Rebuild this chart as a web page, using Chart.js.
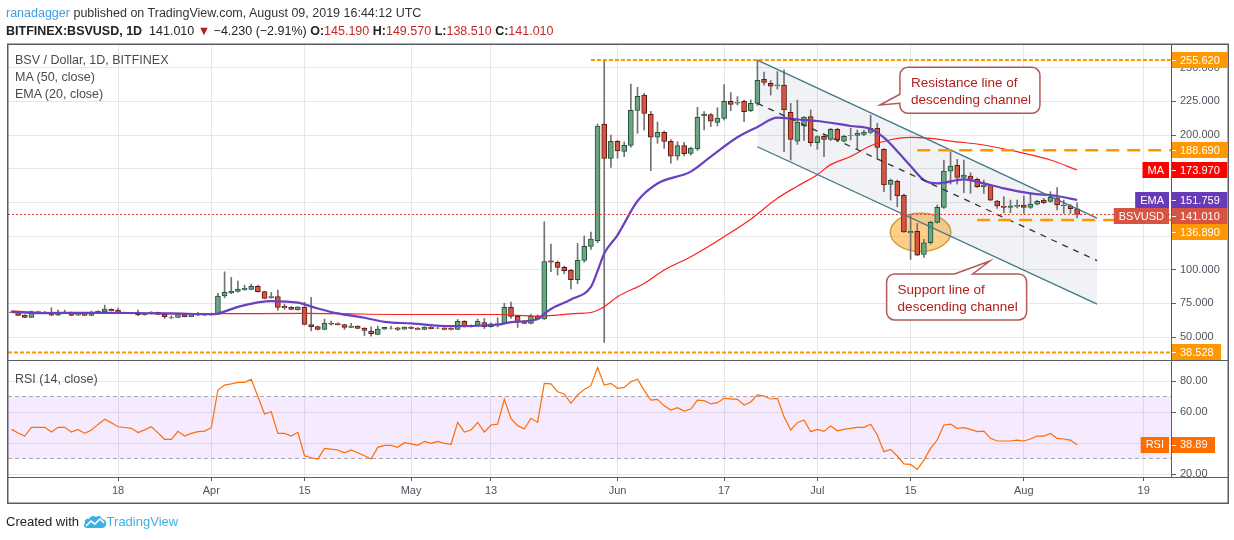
<!DOCTYPE html>
<html>
<head>
<meta charset="utf-8">
<script src="https://cdn.jsdelivr.net/npm/chart.js@4.4.1/dist/chart.umd.min.js"></script>
<style>
  html, body { margin: 0; padding: 0; background: #fff; }
  body { width: 1234px; height: 540px; position: relative; overflow: hidden;
         font-family: "Liberation Sans", Arial, sans-serif; color: #333; }
  #chart { position: absolute; left: 0; top: 0; }
  .txt { position: absolute; white-space: nowrap; line-height: 16px; }
  .user { color: #3d9ee6; }
  .red { color: #c62828; }
  .legend { color: #4a4a4a; font-size: 12.5px; }
  .tv { color: #3bb0e6; }
</style>
</head>
<body>
<canvas id="chart" width="1234" height="540"></canvas>

<div class="txt" style="left:6px;top:5px;font-size:12.5px"><span class="user">ranadagger</span> published on TradingView.com, August 09, 2019 16:44:12 UTC</div>
<div class="txt" style="left:6px;top:23px;font-size:12.5px;color:#222"><b>BITFINEX:BSVUSD, 1D</b>&nbsp; 141.010 <span style="color:#b71c1c">&#9660;</span> &minus;4.230 (&minus;2.91%) <b>O:</b><span class="red">145.190</span> <b>H:</b><span class="red">149.570</span> <b>L:</b><span class="red">138.510</span> <b>C:</b><span class="red">141.010</span></div>

<div class="txt legend" style="left:15px;top:52px">BSV / Dollar, 1D, BITFINEX</div>
<div class="txt legend" style="left:15px;top:69px">MA (50, close)</div>
<div class="txt legend" style="left:15px;top:86px">EMA (20, close)</div>
<div class="txt legend" style="left:15px;top:371px">RSI (14, close)</div>

<div class="txt" style="left:6px;top:514px;font-size:13px;color:#222">Created with
  <svg width="24" height="15" viewBox="0 0 24 15" style="vertical-align:-3px">
    <path d="M4 14 C1 14 0 11 2 9 C1 6 4 4 6 5 C7 2 11 1 13 3 C15 1 19 2 19 5 C22 5 24 8 23 11 C22 13 21 14 19 14 Z" fill="#3bb0e6"/>
    <path d="M3 12 L8 7 L12 10 L17 5 L21 9" fill="none" stroke="#fff" stroke-width="1.6"/>
  </svg><span class="tv">TradingView</span></div>

<script>
// day numbers: day 0 = 1 Mar 2019, first candle is day 1 (2 Mar)
const firstCandleDay = 1;

const opens = [
  68.5, 68.3, 66.3, 64.6, 68.9, 68.6, 68.3, 66.2, 68.5, 68.2,
  66.3, 67.2, 66.0, 67.6, 68.7, 70.5, 70.0, 68.0, 67.8, 68.2,
  66.5, 67.3, 68.3, 66.8, 64.6, 64.5, 66.8, 65.1, 66.2, 66.3,
  66.4, 67.0, 80.6, 82.8, 83.8, 85.1, 85.3, 87.6, 83.8, 79.1,
  80.1, 72.7, 72.0, 70.2, 72.2, 59.3, 57.8, 55.6, 60.3, 60.0,
  59.3, 57.1, 58.1, 56.6, 54.4, 51.9, 55.9, 56.6, 56.8, 55.9,
  57.3, 56.6, 55.6, 57.3, 56.5, 56.6, 56.4, 55.6, 61.6, 57.6,
  58.6, 60.8, 57.6, 60.1, 60.1, 72.0, 65.3, 61.8, 60.1, 65.3,
  63.5, 106.6, 105.4, 101.7, 99.5, 92.5, 106.9, 117.3, 121.5, 208.2,
  182.7, 195.3, 187.9, 192.3, 218.3, 229.7, 215.4, 198.3, 202.0, 195.3,
  184.2, 192.1, 186.4, 189.6, 214.1, 215.1, 209.4, 212.4, 225.0, 223.6,
  225.0, 218.0, 223.5, 241.3, 238.4, 236.4, 237.1, 216.8, 195.5, 206.7,
  213.6, 194.3, 199.0, 196.8, 204.2, 195.5, 199.6, 199.7, 200.5, 202.0,
  205.0, 189.3, 163.3, 165.6, 155.2, 127.4, 128.4, 111.3, 120.0, 135.1,
  146.3, 173.2, 177.5, 168.5, 169.5, 167.0, 161.6, 162.8, 151.0, 147.3,
  146.3, 147.0, 148.0, 146.3, 148.7, 151.7, 150.7, 153.4, 148.0, 147.5,
  145.19
];
const highs = [
  69.0, 68.5, 66.5, 69.2, 69.3, 69.0, 71.7, 70.0, 70.0, 68.6,
  67.8, 67.5, 69.3, 69.5, 73.7, 71.0, 71.5, 68.5, 68.2, 70.0,
  67.8, 68.8, 68.6, 67.0, 65.8, 67.3, 67.1, 66.6, 68.3, 67.4,
  67.7, 82.4, 98.4, 94.2, 91.5, 88.5, 89.3, 88.5, 84.0, 83.1,
  84.8, 74.4, 72.5, 72.6, 75.7, 79.4, 58.2, 63.3, 61.8, 60.5,
  59.5, 60.1, 58.3, 56.9, 57.6, 58.1, 57.3, 58.1, 57.2, 57.6,
  57.7, 57.0, 57.6, 57.8, 57.2, 57.0, 56.8, 63.0, 62.2, 59.0,
  63.3, 63.8, 60.5, 64.3, 75.0, 76.0, 66.0, 62.3, 66.8, 66.5,
  135.6, 119.0, 106.5, 102.7, 100.2, 119.5, 125.0, 127.9, 208.2, 255.62,
  200.0, 196.0, 194.8, 237.9, 235.4, 231.0, 217.5, 209.6, 203.0, 196.5,
  195.0, 194.5, 191.0, 220.6, 217.4, 216.0, 220.3, 237.4, 231.5, 228.5,
  226.0, 226.0, 255.6, 246.8, 240.4, 247.1, 248.3, 223.5, 226.0, 213.6,
  218.6, 199.5, 200.0, 205.0, 205.0, 200.0, 205.0, 203.7, 203.7, 214.8,
  208.7, 190.0, 167.3, 166.5, 156.2, 140.5, 134.4, 122.5, 136.0, 148.0,
  181.4, 189.4, 181.9, 181.4, 172.0, 168.0, 166.5, 163.0, 151.5, 154.2,
  151.7, 151.7, 154.7, 156.7, 151.5, 152.9, 157.9, 160.9, 151.7, 148.5,
  149.57
];
const lows = [
  68.0, 65.8, 64.4, 64.4, 68.2, 68.0, 65.8, 66.0, 67.8, 65.8,
  66.1, 65.9, 65.8, 67.4, 68.5, 69.3, 67.6, 67.4, 67.2, 65.8,
  66.2, 67.1, 66.7, 63.8, 63.5, 64.3, 65.0, 65.0, 65.9, 66.0,
  66.1, 66.8, 79.1, 82.1, 83.3, 84.6, 85.0, 83.3, 78.4, 78.8,
  70.0, 70.5, 70.3, 70.0, 59.0, 54.6, 55.3, 55.3, 58.8, 58.8,
  55.6, 56.9, 56.1, 51.1, 50.6, 51.6, 55.6, 55.9, 54.9, 55.6,
  56.1, 55.3, 55.4, 56.0, 56.0, 55.2, 55.3, 55.4, 57.3, 57.3,
  58.3, 56.3, 57.3, 57.5, 59.8, 63.8, 57.1, 59.8, 59.8, 63.2,
  63.0, 98.5, 96.0, 97.0, 85.8, 89.5, 105.5, 115.0, 120.0, 46.0,
  176.0, 182.7, 183.9, 191.0, 201.2, 203.7, 173.5, 193.8, 190.0, 179.0,
  181.4, 184.4, 185.0, 188.5, 203.7, 206.2, 206.7, 211.0, 218.0, 222.3,
  209.9, 217.4, 222.0, 237.0, 229.7, 234.0, 187.6, 181.4, 193.0, 196.0,
  191.8, 189.4, 183.9, 196.0, 195.0, 194.8, 196.3, 189.4, 199.5, 201.0,
  182.0, 157.9, 151.7, 146.7, 127.6, 107.6, 110.5, 109.1, 119.0, 134.5,
  145.5, 163.6, 163.6, 157.2, 156.7, 161.0, 156.7, 151.2, 145.5, 142.3,
  142.3, 145.8, 141.8, 145.5, 148.0, 149.2, 150.0, 144.3, 141.8, 141.8,
  138.51
];
const closes = [
  68.3, 66.1, 64.6, 68.9, 68.6, 68.2, 66.2, 68.5, 68.0, 66.0,
  67.7, 66.0, 67.8, 69.3, 70.7, 69.6, 68.0, 67.8, 67.6, 66.5,
  67.7, 68.6, 66.8, 65.1, 64.5, 67.0, 65.1, 66.2, 66.6, 67.0,
  67.5, 80.4, 83.1, 84.1, 85.6, 86.1, 87.6, 83.6, 78.6, 80.1,
  72.0, 71.7, 70.5, 72.2, 59.3, 57.6, 55.6, 60.3, 59.6, 59.1,
  57.1, 58.1, 56.4, 54.9, 52.4, 55.9, 57.1, 56.5, 55.6, 57.3,
  56.4, 55.6, 57.3, 56.2, 56.6, 55.6, 55.6, 61.6, 57.6, 58.6,
  61.6, 57.6, 59.8, 60.4, 72.0, 65.3, 61.3, 60.1, 65.3, 63.5,
  106.1, 105.6, 101.7, 99.2, 92.5, 106.9, 117.3, 122.7, 206.7, 182.7,
  195.3, 188.1, 192.3, 218.3, 228.7, 216.1, 198.3, 202.0, 195.3, 184.2,
  192.1, 186.1, 190.3, 213.1, 215.6, 210.2, 212.6, 225.0, 222.8, 224.4,
  217.4, 223.5, 240.6, 239.1, 236.2, 237.2, 218.6, 196.8, 209.6, 213.4,
  194.3, 198.8, 196.8, 204.2, 196.3, 199.0, 199.8, 201.5, 202.2, 205.0,
  190.8, 162.9, 166.3, 154.7, 128.0, 128.4, 110.8, 120.0, 135.1, 146.3,
  173.2, 177.0, 168.5, 170.3, 167.0, 161.6, 162.8, 151.7, 147.3, 146.3,
  147.5, 147.8, 146.3, 148.7, 150.7, 149.7, 153.7, 148.0, 147.5, 145.3,
  141.01
];
const rsiValues = [
  48.8, 46.5, 44.5, 50.1, 50.1, 50.1, 47.1, 50.1, 50.1, 47.1,
  48.8, 46.2, 48.4, 52.0, 55.3, 53.0, 50.5, 50.0, 49.5, 46.7,
  48.5, 50.5, 46.5, 42.4, 42.4, 47.5, 44.5, 46.2, 47.3, 47.7,
  49.9, 74.2, 77.4, 78.1, 79.1, 79.1, 81.1, 70.0, 58.7, 60.2,
  46.2, 46.2, 44.5, 46.9, 31.8, 30.5, 29.7, 36.5, 36.1, 35.5,
  33.7, 35.5, 33.7, 31.8, 29.7, 37.2, 38.5, 38.5, 37.2, 40.2,
  39.4, 38.5, 41.1, 39.8, 41.1, 39.8, 39.2, 53.3, 47.1, 48.4,
  53.3, 47.1, 51.6, 52.2, 68.2, 55.9, 51.2, 49.0, 55.9, 53.3,
  78.5, 78.1, 73.1, 71.6, 65.6, 71.0, 74.6, 77.0, 88.8, 77.4,
  78.5, 75.3, 75.9, 79.5, 81.1, 74.0, 67.7, 68.2, 64.0, 61.3,
  62.8, 60.6, 61.9, 67.7, 67.3, 65.2, 66.0, 68.8, 68.5, 68.2,
  64.5, 66.5, 71.0, 70.3, 68.4, 68.8, 57.0, 48.4, 53.1, 54.8,
  47.3, 48.8, 47.5, 51.0, 47.9, 48.8, 49.5, 50.1, 50.1, 52.1,
  45.2, 34.4, 35.9, 31.6, 26.5, 26.2, 23.0, 29.0, 36.5, 41.9,
  51.6, 52.2, 49.5, 49.9, 48.8, 47.3, 47.7, 43.0, 41.3, 41.3,
  41.3, 41.9, 41.3, 42.6, 44.5, 44.5, 46.2, 43.0, 42.6, 41.9,
  38.89
];

// moving averages at a number of days
const maDays = [1, 5, 10, 20, 31, 45, 62, 74, 80, 86, 88, 90, 92, 96, 99, 103, 108, 112, 116, 119, 122, 124, 127, 130, 133, 136, 139, 142, 147, 152, 157, 161];
const maValues = [69.5, 68.2, 67.6, 67.5, 67.3, 67.5, 66.7, 66.7, 65.5, 67.5, 68.2, 72.5, 79.9, 89.8, 99.7, 109.6, 124.5, 137.5, 153, 162, 170.5, 178, 184, 192, 196.5, 198.3, 197.5, 195.5, 192.6, 187.6, 181.4, 173.97];
const emaDays = [1, 5, 15, 25, 31, 32, 35, 38, 40, 44, 47, 50, 54, 57, 61, 67, 74, 76, 80, 81, 82, 85, 88, 89, 90, 92, 95, 98, 103, 106, 110, 113, 116, 119, 122, 127, 130, 132, 134, 136, 138, 140, 144, 147, 150, 154, 158, 161];
const emaValues = [68.7, 67.8, 68.0, 67.5, 67.0, 67.4, 72.4, 75.7, 76.7, 75.5, 71.2, 67.5, 64.3, 61.3, 60.1, 58.1, 59.1, 61.1, 63.2, 67.2, 70.8, 77.9, 87.3, 99.0, 112.0, 125.7, 151.0, 164.0, 172.8, 183.9, 198.3, 206.0, 212.9, 211.5, 210.4, 206.7, 204.5, 198.0, 188.0, 177.0, 166.6, 164.1, 167.1, 164.1, 160.4, 156.7, 154.7, 151.759];

const tickDays = [17, 31, 45, 61, 73, 92, 108, 122, 136, 153, 171];
const tickLabels = ['18', 'Apr', '15', 'May', '13', 'Jun', '17', 'Jul', '15', 'Aug', '19'];
const priceTicks = [50, 75, 100, 125, 150, 175, 200, 225, 250];
const rsiTicks = [20, 40, 60, 80];

// drawings on the chart
const channelDays = [113, 164];
const channelUpper = [255.6, 138.3];
const channelMiddle = [223.5, 106.7];
const channelLower = [191.3, 74.4];
const levelValues = [255.62, 188.69, 136.89, 38.528];
const levelStartDays = [88, 137, 146, 0.48];
const lastPrice = 141.01;

const priceLabelValues = [255.62, 188.69, 173.97, 151.759, 141.01, 136.89, 38.528];
const priceLabelNames = ['', '', 'MA', 'EMA', 'BSVUSD', '', ''];
const rsiLabelValue = 38.89;

const ellipseNote = { day: 137.5, price: 127.7, halfDays: 4.55, halfPrice: 14.2 };
const callouts = [
  { day: 134.4, price: 250.3, lines: ['Resistance line of', 'descending channel'],
    side: 'left', tipDay: 131.4, tipPrice: 222.3 },
  { day: 132.4, price: 96.8, lines: ['Support line of', 'descending channel'],
    side: 'top', tipDay: 147.9, tipPrice: 106.4 }
];

const X_MIN = 0.48, X_MAX = 175.1;
const UP = '#6ba583', UP_EDGE = '#225437', DOWN = '#d75442', DOWN_EDGE = '#5b1a13';
const ORANGE = '#ff9800';

const candleDays = opens.map((_, i) => firstCandleDay + i);
const isUp = closes.map((c, i) => c >= opens[i]);

const pts = (xs, ys) => xs.map((x, i) => ({ x: x, y: ys[i] }));
const hline = (from, value) => [{ x: from, y: value }, { x: X_MAX, y: value }];

const lineBase = { type: 'line', pointRadius: 0, pointHoverRadius: 0, fill: false, yAxisID: 'y' };

const datasets = [
  // channel shading (drawn first)
  { ...lineBase, data: pts(channelDays, channelUpper), borderWidth: 0, fill: '+1',
    backgroundColor: 'rgba(120,140,165,0.11)', order: 30 },
  { ...lineBase, data: pts(channelDays, channelLower), borderWidth: 0, order: 29 },
  // RSI band
  { ...lineBase, yAxisID: 'yr', data: hline(X_MIN, 70), borderColor: '#aaa6ad', borderWidth: 1,
    borderDash: [4, 3], fill: '+1', backgroundColor: 'rgba(153,21,255,0.09)', order: 28 },
  { ...lineBase, yAxisID: 'yr', data: hline(X_MIN, 30), borderColor: '#aaa6ad', borderWidth: 1,
    borderDash: [4, 3], order: 27 },
  // candles
  { type: 'bar', yAxisID: 'y', grouped: false, barThickness: 1, order: 20,
    data: candleDays.map((d, i) => ({ x: d, y: [lows[i], highs[i]] })),
    backgroundColor: '#737375', borderWidth: 0 },
  { type: 'bar', yAxisID: 'y', grouped: false, barThickness: 5, order: 19,
    data: candleDays.map((d, i) => ({ x: d, y: [opens[i], closes[i]] })),
    backgroundColor: isUp.map(u => u ? UP : DOWN),
    borderColor: isUp.map(u => u ? UP_EDGE : DOWN_EDGE),
    borderWidth: 1, borderSkipped: false },
  // indicators
  { ...lineBase, data: pts(maDays, maValues), borderColor: '#ff2020', borderWidth: 1.2,
    cubicInterpolationMode: 'monotone', order: 12 },
  { ...lineBase, data: pts(emaDays, emaValues), borderColor: '#6a3fc0', borderWidth: 2.2,
    cubicInterpolationMode: 'monotone', order: 11 },
  // channel lines
  { ...lineBase, data: pts(channelDays, channelUpper), borderColor: '#3f7885', borderWidth: 1.3, order: 6 },
  { ...lineBase, data: pts(channelDays, channelLower), borderColor: '#3f7885', borderWidth: 1.3, order: 6 },
  { ...lineBase, data: pts(channelDays, channelMiddle), borderColor: '#333', borderWidth: 1.3,
    borderDash: [6, 6], order: 6 },
  // horizontal levels
  { ...lineBase, data: hline(levelStartDays[0], levelValues[0]), borderColor: ORANGE, borderWidth: 2, borderDash: [4, 2], order: 5 },
  { ...lineBase, data: hline(levelStartDays[1], levelValues[1]), borderColor: ORANGE, borderWidth: 2.5, borderDash: [13, 8], order: 5 },
  { ...lineBase, data: hline(levelStartDays[2], levelValues[2]), borderColor: ORANGE, borderWidth: 2.5, borderDash: [13, 8], order: 5 },
  { ...lineBase, data: hline(levelStartDays[3], levelValues[3]), borderColor: ORANGE, borderWidth: 2, borderDash: [4, 2], order: 5 },
  { ...lineBase, data: hline(X_MIN, lastPrice), borderColor: '#e53935', borderWidth: 1, borderDash: [2, 2], order: 4 },
  // RSI
  { ...lineBase, yAxisID: 'yr', data: pts(candleDays, rsiValues), borderColor: '#ff6d00', borderWidth: 1.2, order: 3 }
];

function drawCallout(ctx, xs, ys, c) {
  const w = 140, h = 46, rad = 8;
  const l = xs.getPixelForValue(c.day), t = ys.getPixelForValue(c.price);
  const r = l + w, b = t + h;
  const tx = xs.getPixelForValue(c.tipDay), ty = ys.getPixelForValue(c.tipPrice);
  ctx.beginPath();
  ctx.moveTo(l + rad, t);
  if (c.side === 'top') { ctx.lineTo(l + 68, t); ctx.lineTo(tx, ty); ctx.lineTo(l + 86, t); }
  ctx.lineTo(r - rad, t); ctx.arcTo(r, t, r, t + rad, rad);
  ctx.lineTo(r, b - rad); ctx.arcTo(r, b, r - rad, b, rad);
  ctx.lineTo(l + rad, b); ctx.arcTo(l, b, l, b - rad, rad);
  if (c.side === 'left') { ctx.lineTo(l, t + 36); ctx.lineTo(tx, ty); ctx.lineTo(l, t + 27); }
  ctx.lineTo(l, t + rad); ctx.arcTo(l, t, l + rad, t, rad);
  ctx.closePath();
  ctx.fillStyle = '#fff';
  ctx.fill();
  ctx.lineWidth = 1.5;
  ctx.strokeStyle = '#b05a5a';
  ctx.stroke();
  ctx.fillStyle = '#b0201c';
  ctx.font = '13.5px "Liberation Sans", Arial, sans-serif';
  ctx.textBaseline = 'middle';
  ctx.textAlign = 'left';
  c.lines.forEach((s, i) => ctx.fillText(s, l + 11, t + 16 + i * 17));
}

function drawAxisBox(ctx, axisX, y, value, name, bg, small) {
  ctx.font = '11px "Liberation Sans", Arial, sans-serif';
  ctx.textBaseline = 'middle';
  const tw = ctx.measureText(value).width;
  ctx.fillStyle = bg;
  ctx.fillRect(axisX + 0.5, Math.round(y - 8), 9 + tw + 7, 16);
  ctx.strokeStyle = '#fff';
  ctx.lineWidth = 1;
  ctx.beginPath(); ctx.moveTo(axisX + 1, Math.round(y) + 0.5); ctx.lineTo(axisX + 5, Math.round(y) + 0.5); ctx.stroke();
  ctx.fillStyle = '#fff';
  ctx.textAlign = 'left';
  ctx.fillText(value, axisX + 9, y + 0.5);
  if (name) {
    const nw = ctx.measureText(name).width + 10;
    ctx.fillStyle = bg;
    ctx.fillRect(axisX - 2 - nw, Math.round(y - 8), nw, 16);
    ctx.fillStyle = '#fff';
    ctx.textAlign = 'center';
    ctx.fillText(name, axisX - 2 - nw / 2, y + 0.5);
  }
}

const tvOverlay = {
  id: 'tvOverlay',
  beforeDatasetsDraw(chart) {
    const { ctx } = chart;
    const xs = chart.scales.x, ys = chart.scales.y;
    const cx = xs.getPixelForValue(ellipseNote.day), cy = ys.getPixelForValue(ellipseNote.price);
    const rx = Math.abs(xs.getPixelForValue(ellipseNote.day + ellipseNote.halfDays) - cx);
    const ry = Math.abs(ys.getPixelForValue(ellipseNote.price + ellipseNote.halfPrice) - cy);
    ctx.save();
    ctx.beginPath();
    ctx.ellipse(cx, cy, rx, ry, 0, 0, Math.PI * 2);
    ctx.fillStyle = 'rgba(255,165,40,0.55)';
    ctx.fill();
    ctx.lineWidth = 1.5;
    ctx.strokeStyle = '#c9a23c';
    ctx.stroke();
    ctx.restore();
  },
  afterDatasetsDraw(chart) {
    const { ctx } = chart;
    ctx.save();
    callouts.forEach(c => drawCallout(ctx, chart.scales.x, chart.scales.y, c));
    ctx.restore();
  },
  afterDraw(chart) {
    const { ctx, chartArea } = chart;
    const ys = chart.scales.y, yr = chart.scales.yr;
    const axisX = chartArea.right;
    ctx.save();
    // keep the RSI axis text inside its pane
    ctx.fillStyle = '#fff';
    ctx.fillRect(axisX + 1, chartArea.bottom + 1, 60, 26);

    const colors = [ORANGE, ORANGE, '#ff0000', '#673ab7', '#d75442', ORANGE, ORANGE];
    const items = priceLabelValues.map((v, i) => ({
      v: v, name: priceLabelNames[i], bg: colors[i], y: ys.getPixelForValue(v)
    })).sort((a, b) => a.y - b.y);
    for (let i = 1; i < items.length; i++) {
      if (items[i].y - items[i - 1].y < 16) items[i].y = items[i - 1].y + 16;
    }
    items.forEach(it => drawAxisBox(ctx, axisX, it.y, it.v.toFixed(3), it.name, it.bg));
    drawAxisBox(ctx, axisX, yr.getPixelForValue(rsiLabelValue), rsiLabelValue.toFixed(2), 'RSI', '#ff6d00');

    // frame, pane separator and axis lines
    const paneSplit = ys.bottom;
    ctx.strokeStyle = '#5a5d66';
    ctx.lineWidth = 1;
    ctx.beginPath();
    ctx.moveTo(8, Math.round(paneSplit) + 0.5); ctx.lineTo(1228, Math.round(paneSplit) + 0.5);
    ctx.moveTo(8, Math.round(chartArea.bottom) + 0.5); ctx.lineTo(1228, Math.round(chartArea.bottom) + 0.5);
    ctx.moveTo(Math.round(axisX) + 0.5, 44); ctx.lineTo(Math.round(axisX) + 0.5, chartArea.bottom);
    ctx.stroke();
    ctx.lineWidth = 1.5;
    ctx.strokeRect(7.75, 44.25, 1220.5, 459);
    ctx.restore();
  }
};

Chart.defaults.font.family = '"Liberation Sans", Arial, sans-serif';
Chart.defaults.font.size = 11;
Chart.defaults.color = '#50535e';

new Chart(document.getElementById('chart'), {
  type: 'line',
  data: { datasets: datasets },
  plugins: [tvOverlay],
  options: {
    responsive: false,
    animation: false,
    devicePixelRatio: 1,
    layout: { padding: { left: 8, top: 45, right: 6, bottom: 37 } },
    plugins: { legend: { display: false }, tooltip: { enabled: false } },
    scales: {
      x: {
        type: 'linear', position: 'bottom', min: X_MIN, max: X_MAX, offset: false,
        afterBuildTicks: s => { s.ticks = tickDays.map(v => ({ value: v })); },
        afterFit: s => { s.height = 26; },
        ticks: { autoSkip: false, maxRotation: 0, padding: 3,
                 callback: (v, i) => tickLabels[i] },
        grid: { color: '#e6e6e6', offset: false, tickLength: 4, tickColor: '#5a5d66' },
        border: { color: '#5a5d66' }
      },
      y: {
        type: 'linear', position: 'right', stack: 'panes', stackWeight: 315,
        min: 32.93, max: 266.83,
        afterBuildTicks: s => { s.ticks = priceTicks.map(v => ({ value: v })); },
        afterFit: s => { s.width = 57; },
        ticks: { padding: 4, callback: v => Number(v).toFixed(3) },
        grid: { color: '#e6e6e6', tickLength: 5, tickColor: '#5a5d66' },
        border: { color: '#5a5d66' }
      },
      yr: {
        type: 'linear', position: 'right', stack: 'panes', stackWeight: 117,
        min: 18.07, max: 93.55,
        afterBuildTicks: s => { s.ticks = rsiTicks.map(v => ({ value: v })); },
        afterFit: s => { s.width = 57; },
        ticks: { padding: 4, callback: v => Number(v).toFixed(2) },
        grid: { color: '#e6e6e6', tickLength: 5, tickColor: '#5a5d66' },
        border: { color: '#5a5d66' }
      }
    }
  }
});
</script>
</body>
</html>
